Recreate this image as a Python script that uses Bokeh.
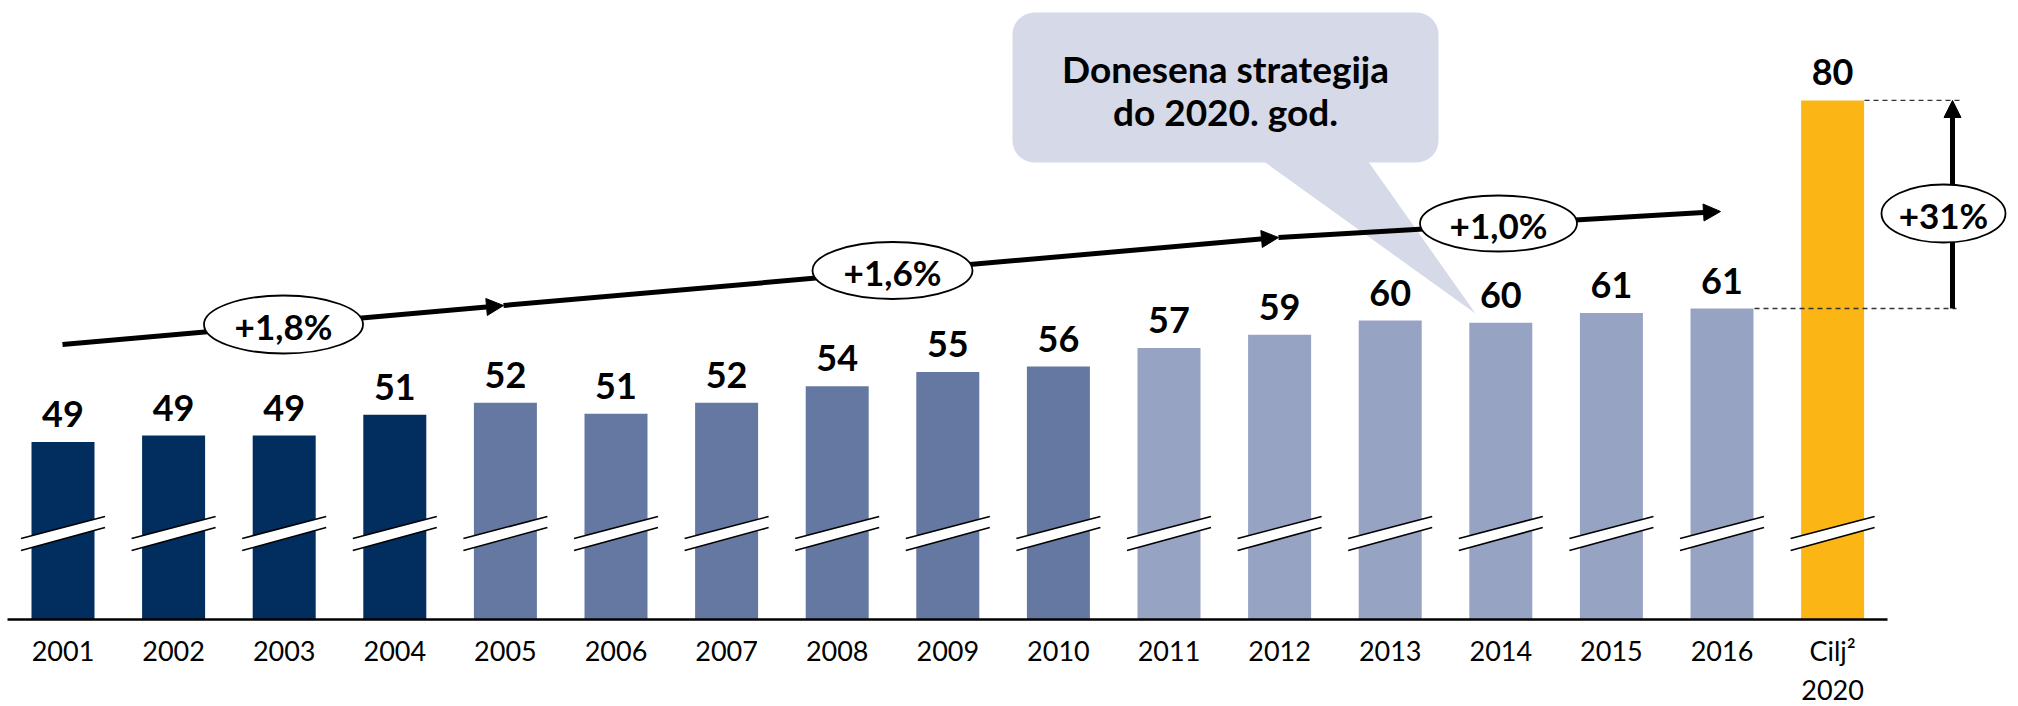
from bokeh.plotting import figure
from bokeh.models import Range1d, FixedTicker, Arrow, NormalHead, BoxAnnotation, ColumnDataSource
from bokeh.core.properties import value
from bokeh.embed import file_html
from bokeh.resources import INLINE

# ---------------- data ----------------
categories = ["2001", "2002", "2003", "2004", "2005", "2006", "2007", "2008",
              "2009", "2010", "2011", "2012", "2013", "2014", "2015", "2016",
              "Cilj²\n2020"]
values = [48.8, 49.4, 49.4, 51.3, 52.4, 51.4, 52.4, 53.9,
          55.2, 55.7, 57.4, 58.6, 59.9, 59.7, 60.6, 61.0,
          80.0]
value_labels = ["49", "49", "49", "51", "52", "51", "52", "54",
                "55", "56", "57", "59", "60", "60", "61", "61",
                "80"]
periods = ["2001-2004"] * 4 + ["2005-2010"] * 6 + ["2011-2016"] * 6 + ["Cilj 2020"]
growth_labels = ["+1,8%", "+1,6%", "+1,0%"]
target_growth_label = "+31%"
callout_lines = ["Donesena strategija", "do 2020. god."]

# ---------------- styling / layout ----------------
FONT = "Lato"
period_colors = {"2001-2004": "#022D5F", "2005-2010": "#6578A1",
                 "2011-2016": "#97A3C3", "Cilj 2020": "#FBB615"}
CALLOUT = "#D5D9E8"

W, H = 2018, 706
X0_PX, DX_PX = 62.5, 110.6     # page px of first bar centre, px per category
BASE_PX, PX_PER_UNIT = 619.0, 10.95
AXIS_BASE = 32.6               # broken axis: value at the baseline


def X(px):
    return (px - X0_PX) / DX_PX


def Y(py):
    return AXIS_BASE + (BASE_PX - py) / PX_PER_UNIT


n = len(categories)
idx = list(range(n))

p = figure(width=W, height=H,
           x_range=Range1d(X(0), X(W)), y_range=Range1d(Y(H), Y(0)),
           y_axis_location=None, output_backend="svg", toolbar_location=None,
           min_border_left=0, min_border_right=0, min_border_top=0, min_border_bottom=0)
p.outline_line_color = None
p.xgrid.visible = False
p.ygrid.visible = False
p.background_fill_color = "white"

# callout (under everything)
box = BoxAnnotation(left=X(1012), right=X(1438), top=Y(12), bottom=Y(162),
                    fill_color=CALLOUT, fill_alpha=1, line_color=None,
                    border_radius=22, level="underlay")
p.add_layout(box)
p.patch([X(1262), X(1367), X(1475)], [Y(160), Y(160), Y(313)],
        fill_color=CALLOUT, line_color=None, level="underlay")

# bars
src = ColumnDataSource(dict(x=idx, top=values, lab=value_labels,
                            color=[period_colors[q] for q in periods]))
p.vbar(x="x", top="top", bottom=AXIS_BASE, width=63 / DX_PX, fill_color="color",
       line_color=None, source=src)

# axis-break marks
hw = 42 / DX_PX
p.patches([[i - hw, i + hw, i + hw, i - hw] for i in idx],
          [[Y(550), Y(527), Y(516), Y(538)] for _ in idx],
          fill_color="white", line_color=None)
p.segment(x0=[i - hw for i in idx] * 2, x1=[i + hw for i in idx] * 2,
          y0=[Y(538)] * n + [Y(550)] * n, y1=[Y(516)] * n + [Y(527)] * n,
          line_color="black", line_width=1.6)

# value labels
p.text(x="x", y="top", text="lab", source=src, y_offset=-28,
       text_align="center", text_baseline="alphabetic",
       text_font=value(FONT), text_font_style="bold", text_font_size="36px",
       text_color="black")

# callout text
p.text(x=[X(1225), X(1225)], y=[Y(68), Y(111)], text=callout_lines,
       text_align="center", text_baseline="middle",
       text_font=value(FONT), text_font_style="bold", text_font_size="37px",
       text_color="black")

# dashed reference lines for target growth
p.segment(x0=[X(1754), X(1864)], x1=[X(1956), X(1959)],
          y0=[values[-2], values[-1]], y1=[values[-2], values[-1]],
          line_color="#333333", line_width=1.3, line_dash="5 4")

# trend arrows
trend = [((62, 344), (503, 305)), ((503, 305), (1278, 237)), ((1278, 237), (1720, 211))]
for (a, b) in trend:
    p.add_layout(Arrow(x_start=X(a[0]), y_start=Y(a[1]), x_end=X(b[0]), y_end=Y(b[1]),
                       line_width=5, line_color="black",
                       end=NormalHead(size=17, fill_color="black", line_color="black")))
p.add_layout(Arrow(x_start=X(1952), y_start=values[-2], x_end=X(1952), y_end=values[-1],
                   line_width=5, line_color="black",
                   end=NormalHead(size=17, fill_color="black", line_color="black")))

# growth ellipses
ex = [X(283), X(892), X(1498), X(1943)]
ey = [Y(324), Y(270), Y(223), Y(213)]
ew = [159, 160, 157, 124]
p.ellipse(x=ex, y=ey, width=ew, height=[58, 57, 56, 58],
          width_units="screen", height_units="screen",
          fill_color="white", line_color="black", line_width=1.8, level="overlay")
p.text(x=ex, y=ey, text=growth_labels + [target_growth_label], y_offset=1,
       text_align="center", text_baseline="middle",
       text_font=value(FONT), text_font_style="bold", text_font_size="35px",
       text_color="black", level="overlay")

# x axis, fixed at the (broken) baseline
ax = p.xaxis[0]
ax.fixed_location = AXIS_BASE
ax.ticker = FixedTicker(ticks=idx)
ax.major_label_overrides = {i: c for i, c in enumerate(categories)}
ax.bounds = (-0.5, n - 0.5)
ax.axis_line_color = "black"
ax.axis_line_width = 2.5
ax.major_tick_in = 0
ax.major_tick_out = 0
ax.minor_tick_line_color = None
ax.major_label_standoff = 14
ax.major_label_text_font = FONT
ax.major_label_text_font_size = "27px"
ax.major_label_text_color = "black"

open("out.html", "w").write(file_html(p, INLINE))
